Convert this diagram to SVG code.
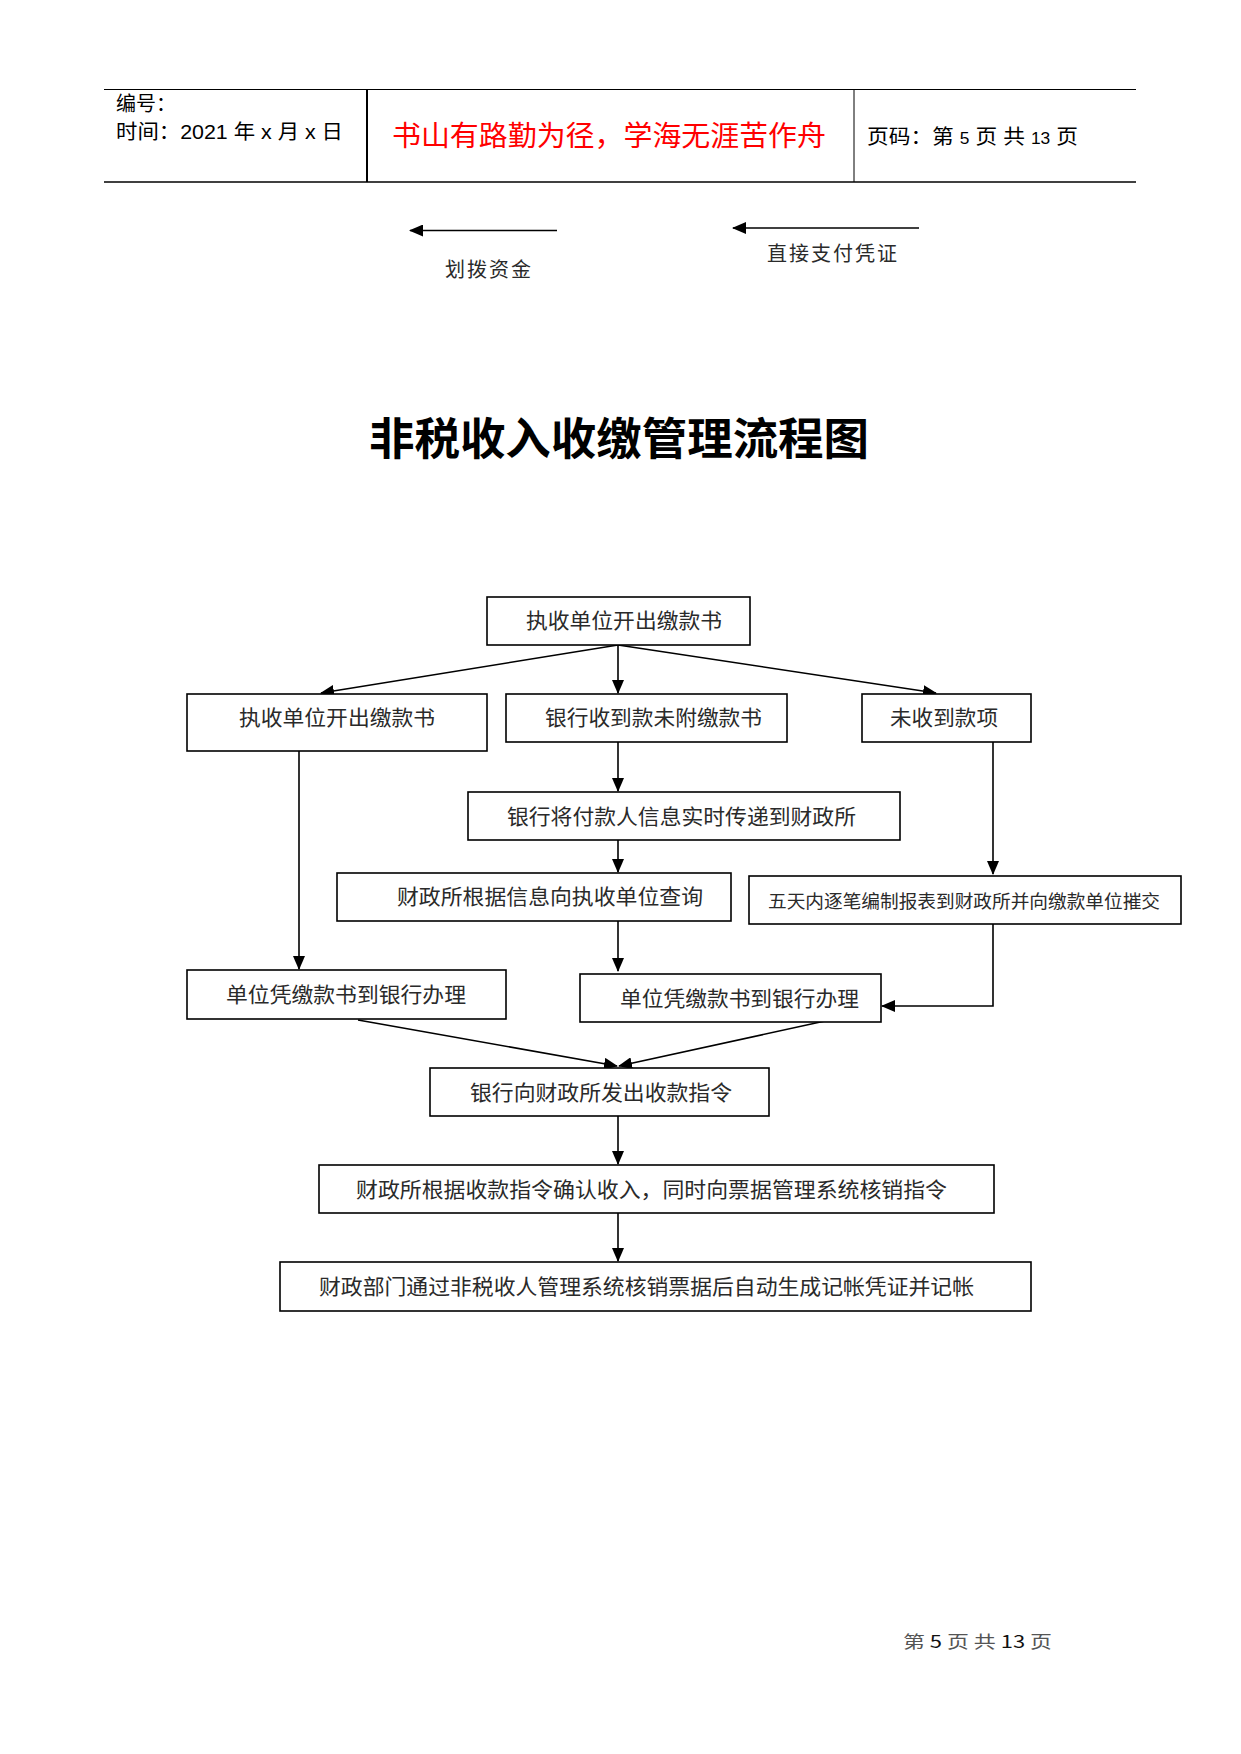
<svg xmlns="http://www.w3.org/2000/svg" width="1241" height="1754" viewBox="0 0 1241 1754">
<style>
.t{font-family:"Noto Sans CJK SC","Liberation Serif",serif;fill:#2a2a2a;}
.h{font-family:"Liberation Sans","Noto Sans CJK SC",sans-serif;fill:#000;}
.box{fill:#fff;stroke:#000;stroke-width:1.6;}
.c{stroke:#000;stroke-width:1.6;fill:none;}
</style>
<defs>
<marker id="ah" markerUnits="userSpaceOnUse" markerWidth="14" markerHeight="12" refX="13" refY="6" orient="auto">
<path d="M0,0 L14,6 L0,12 Z" fill="#000"/>
</marker>
</defs>
<rect width="1241" height="1754" fill="#fff"/>
<g id="header">
<line x1="104" y1="89.5" x2="1136" y2="89.5" stroke="#000" stroke-width="1.2"/>
<line x1="104" y1="182" x2="1136" y2="182" stroke="#000" stroke-width="1.6"/>
<line x1="367" y1="89.5" x2="367" y2="182" stroke="#000" stroke-width="2"/>
<line x1="854" y1="89.5" x2="854" y2="182" stroke="#000" stroke-width="1"/>
<text class="h" x="116" y="111" font-size="20">编号：</text>
<text class="h" x="116" y="139" font-size="20" textLength="227" lengthAdjust="spacingAndGlyphs">时间：2021 年 x 月 x 日</text>
<text x="392" y="146" font-size="28" fill="#ff0000" font-family="'Noto Sans CJK SC',sans-serif" textLength="434" lengthAdjust="spacingAndGlyphs">书山有路勤为径，学海无涯苦作舟</text>
<text class="h" x="867" y="144" font-size="20" textLength="211" lengthAdjust="spacingAndGlyphs">页码：第 <tspan font-size="16">5</tspan> 页  共 <tspan font-size="16">13</tspan> 页</text>
</g>
<g id="legend">
<line class="c" x1="557" y1="230.5" x2="410" y2="230.5" marker-end="url(#ah)"/>
<text class="t" x="489" y="277" font-size="20" text-anchor="middle" fill="#333" letter-spacing="2">划拨资金</text>
<line class="c" x1="919" y1="228" x2="733" y2="228" marker-end="url(#ah)"/>
<text class="t" x="833" y="261" font-size="20" text-anchor="middle" fill="#333" letter-spacing="2">直接支付凭证</text>
</g>
<text id="title" x="619" y="455" font-size="44" font-weight="bold" text-anchor="middle" font-family="'Noto Sans CJK SC',sans-serif" fill="#000" textLength="500" lengthAdjust="spacingAndGlyphs">非税收入收缴管理流程图</text>
<g id="connectors">
<line class="c" x1="618" y1="645" x2="321" y2="693" marker-end="url(#ah)"/>
<line class="c" x1="618" y1="645" x2="618" y2="693" marker-end="url(#ah)"/>
<line class="c" x1="618" y1="645" x2="936" y2="693" marker-end="url(#ah)"/>
<line class="c" x1="299" y1="751" x2="299" y2="969" marker-end="url(#ah)"/>
<line class="c" x1="618" y1="742" x2="618" y2="791" marker-end="url(#ah)"/>
<line class="c" x1="993" y1="742" x2="993" y2="874" marker-end="url(#ah)"/>
<line class="c" x1="618" y1="840" x2="618" y2="872" marker-end="url(#ah)"/>
<line class="c" x1="618" y1="921" x2="618" y2="971" marker-end="url(#ah)"/>
<polyline class="c" points="993,924 993,1006 882,1006" marker-end="url(#ah)"/>
<line class="c" x1="358" y1="1020" x2="617" y2="1066" marker-end="url(#ah)"/>
<line class="c" x1="825" y1="1021" x2="619" y2="1066" marker-end="url(#ah)"/>
<line class="c" x1="618" y1="1116" x2="618" y2="1164" marker-end="url(#ah)"/>
<line class="c" x1="618" y1="1213" x2="618" y2="1261" marker-end="url(#ah)"/>
</g>
<g id="n1"><rect class="box" x="487" y="597" width="263" height="48"/><text class="t" x="526" y="628" font-size="21" textLength="196" lengthAdjust="spacingAndGlyphs">执收单位开出缴款书</text></g>
<g id="n2"><rect class="box" x="187" y="694" width="300" height="57"/><text class="t" x="239" y="725" font-size="21" textLength="196" lengthAdjust="spacingAndGlyphs">执收单位开出缴款书</text></g>
<g id="n3"><rect class="box" x="506" y="694" width="281" height="48"/><text class="t" x="545" y="725" font-size="21" textLength="217" lengthAdjust="spacingAndGlyphs">银行收到款未附缴款书</text></g>
<g id="n4"><rect class="box" x="862" y="694" width="169" height="48"/><text class="t" x="890" y="725" font-size="21" textLength="108" lengthAdjust="spacingAndGlyphs">未收到款项</text></g>
<g id="n5"><rect class="box" x="468" y="792" width="432" height="48"/><text class="t" x="507" y="824" font-size="21" textLength="349" lengthAdjust="spacingAndGlyphs">银行将付款人信息实时传递到财政所</text></g>
<g id="n6"><rect class="box" x="337" y="873" width="394" height="48"/><text class="t" x="397" y="904" font-size="21" textLength="306" lengthAdjust="spacingAndGlyphs">财政所根据信息向执收单位查询</text></g>
<g id="n7"><rect class="box" x="749" y="876" width="432" height="48"/><text class="t" x="768" y="908" font-size="18" textLength="392" lengthAdjust="spacingAndGlyphs">五天内逐笔编制报表到财政所并向缴款单位摧交</text></g>
<g id="n8"><rect class="box" x="187" y="970" width="319" height="49"/><text class="t" x="226" y="1002" font-size="21" textLength="240" lengthAdjust="spacingAndGlyphs">单位凭缴款书到银行办理</text></g>
<g id="n9"><rect class="box" x="580" y="974" width="301" height="48"/><text class="t" x="620" y="1006" font-size="21" textLength="239" lengthAdjust="spacingAndGlyphs">单位凭缴款书到银行办理</text></g>
<g id="n10"><rect class="box" x="430" y="1068" width="339" height="48"/><text class="t" x="470" y="1100" font-size="21" textLength="262" lengthAdjust="spacingAndGlyphs">银行向财政所发出收款指令</text></g>
<g id="n11"><rect class="box" x="319" y="1165" width="675" height="48"/><text class="t" x="356" y="1197" font-size="21" textLength="591" lengthAdjust="spacingAndGlyphs">财政所根据收款指令确认收入，同时向票据管理系统核销指令</text></g>
<g id="n12"><rect class="box" x="280" y="1262" width="751" height="49"/><text class="t" x="319" y="1294" font-size="21" textLength="655" lengthAdjust="spacingAndGlyphs">财政部门通过非税收人管理系统核销票据后自动生成记帐凭证并记帐</text></g>
<g id="footer"><text x="903" y="1648" font-size="17" font-family="'Noto Sans CJK SC',sans-serif" fill="#555" textLength="149" lengthAdjust="spacingAndGlyphs">第 <tspan fill="#111">5</tspan> 页 共 <tspan fill="#111">13</tspan> 页</text></g>
</svg>
